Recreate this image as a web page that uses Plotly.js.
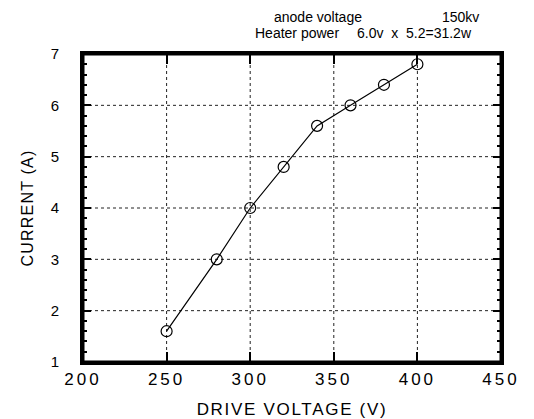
<!DOCTYPE html>
<html>
<head>
<meta charset="utf-8">
<script src="https://cdn.plot.ly/plotly-3.0.1.min.js"></script>
<style>
  html, body { margin: 0; padding: 0; background: #fff; }
</style>
</head>
<body>
<div id="chart" style="width:534px;height:419px;"></div>
<script>
// Data
const driveVoltage = [250, 280, 300, 320, 340, 360, 380, 400];
const current = [1.6, 3.0, 4.0, 4.8, 5.6, 6.0, 6.4, 6.8];

const xTickVals = [200, 250, 300, 350, 400, 450];
const xTickText = ['200', '250', '300', '350', '400', '450'];
const yTickVals = [1, 2, 3, 4, 5, 6, 7];
const yTickText = ['1', '2', '3', '4', '5', '6', '7'];

const headerLine1Left = 'anode voltage';
const headerLine1Right = '150kv';
const headerLine2Left = 'Heater power';
const headerLine2Right = '6.0v \u00a0x \u00a05.2=31.2w';

// Plot-area geometry (pixels)
const W = 534, H = 419;
const L = 83, R = 501, T = 54, B = 362;
const px = x => (x - L) / (R - L);
const py = y => (B - y) / (B - T);

const font = 'Liberation Sans, Arial, Helvetica, sans-serif';
const xRange = [200, 450];
const yRange = [1, 7];

const trace = {
  x: driveVoltage,
  y: current,
  type: 'scatter',
  mode: 'lines+markers',
  line: { color: '#000', width: 1.2 },
  marker: { symbol: 'circle-open', size: 11, color: '#000', line: { width: 1.2, color: '#000' } },
  hoverinfo: 'skip',
  showlegend: false
};

// Dotted grid lines at the interior major ticks
const gridLine = { color: '#222', width: 1, dash: 'dot' };
const gridShapes = []
  .concat(xTickVals.filter(v => v > xRange[0] && v < xRange[1]).map(v => ({
    type: 'line', xref: 'x', yref: 'paper', x0: v, x1: v, y0: 0, y1: 1, layer: 'below', line: gridLine })))
  .concat(yTickVals.filter(v => v > yRange[0] && v < yRange[1]).map(v => ({
    type: 'line', xref: 'paper', yref: 'y', x0: 0, x1: 1, y0: v, y1: v, layer: 'below', line: gridLine })));
// Heavy frame round the plot area
gridShapes.push({ type: 'rect', xref: 'paper', yref: 'paper', x0: 0, x1: 1, y0: 0, y1: 1, layer: 'above',
  line: { color: '#000', width: 3 }, fillcolor: 'rgba(0,0,0,0)' });

const annFont = { family: font, size: 14, color: '#000' };
const layout = {
  width: W, height: H,
  margin: { l: L, r: W - R, t: T, b: H - B },
  showlegend: false,
  font: { family: font, color: '#000' },
  xaxis: {
    range: xRange,
    tickmode: 'array',
    tickvals: xTickVals,
    ticktext: xTickText,
    ticks: 'inside',
    ticklen: 10,
    tickwidth: 2,
    tickcolor: '#000',
    tickfont: { family: font, size: 17, color: '#000' },
    showline: true,
    linewidth: 3,
    linecolor: '#000',
    mirror: 'ticks',
    showgrid: false,
    zeroline: false,
    title: { text: 'DRIVE VOLTAGE (V)', font: { family: font, size: 17, color: '#000' }, standoff: 15 }
  },
  yaxis: {
    range: yRange,
    tickmode: 'array',
    tickvals: yTickVals,
    ticktext: yTickText,
    ticks: 'inside',
    ticklen: 8,
    tickwidth: 2,
    tickcolor: '#000',
    ticklabelstandoff: 18,
    tickfont: { family: font, size: 15, color: '#000' },
    minor: { dtick: 0.2, ticks: 'inside', ticklen: 4, tickwidth: 2, tickcolor: '#000' },
    showline: true,
    linewidth: 3,
    linecolor: '#000',
    mirror: 'ticks',
    showgrid: false,
    zeroline: false,
    title: { text: 'CURRENT (A)', font: { family: font, size: 16, color: '#000' }, standoff: 14 }
  },
  shapes: gridShapes,
  annotations: [
    { xref: 'paper', yref: 'paper', x: px(272), y: py(17), xanchor: 'left', yanchor: 'middle', text: headerLine1Left, showarrow: false, font: annFont },
    { xref: 'paper', yref: 'paper', x: px(440), y: py(17), xanchor: 'left', yanchor: 'middle', text: headerLine1Right, showarrow: false, font: annFont },
    { xref: 'paper', yref: 'paper', x: px(253), y: py(33), xanchor: 'left', yanchor: 'middle', text: headerLine2Left, showarrow: false, font: annFont },
    { xref: 'paper', yref: 'paper', x: px(355), y: py(33), xanchor: 'left', yanchor: 'middle', text: headerLine2Right, showarrow: false, font: annFont }
  ]
};

Plotly.newPlot('chart', [trace], layout, { staticPlot: true }).then(gd => {
  const spacing = (sel, v) => gd.querySelectorAll(sel).forEach(t => { t.style.letterSpacing = v; });
  spacing('g.xtick text', '3px');
  spacing('.g-xtitle text', '1.7px');
  spacing('.g-ytitle text', '1.2px');
});
</script>
</body>
</html>
